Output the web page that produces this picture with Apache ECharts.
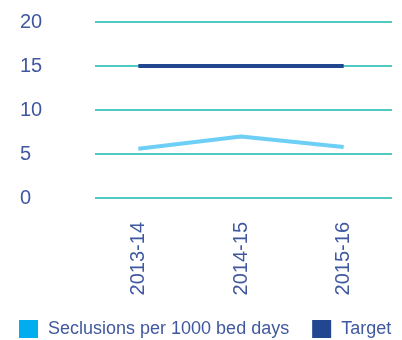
<!DOCTYPE html>
<html>
<head>
<meta charset="utf-8">
<script src="https://cdn.jsdelivr.net/npm/echarts@6/dist/echarts.min.js"></script>
<style>
  html, body { margin: 0; padding: 0; background: #fff; }
  #chart { width: 402px; height: 340px; }
</style>
</head>
<body>
<div id="chart"></div>
<script>
var years = ['2013-14', '2014-15', '2015-16'];
var seclusions = [5.6, 7.0, 5.8];
var target = [15, 15, 15];
var yTicks = [0, 5, 10, 15, 20];

var textBlue = '#40589f';
var font = 'Liberation Sans';

var myChart = echarts.init(document.getElementById('chart'), null, { renderer: 'canvas' });

var option = {
    animation: false,
    legend: {
        left: 19,
        top: 320,
        padding: 0,
        icon: 'rect',
        itemWidth: 19,
        itemHeight: 18,
        itemGap: 23,
        selectedMode: false,
        textStyle: { color: textBlue, fontSize: 18, fontFamily: font, padding: [0, 0, 0, 5] },
        data: ['Seclusions per 1000 bed days', 'Target']
    },
    grid: [
        // series grid
        { left: 87, right: 7, top: 22, height: 176 },
        // grid for the y labels and split lines
        { left: 95, right: 10, top: 22, height: 176 }
    ],
    xAxis: [{
        type: 'category',
        gridIndex: 0,
        data: years,
        boundaryGap: true,
        axisLine: { show: false },
        axisTick: { show: false },
        axisLabel: {
            rotate: 90,
            margin: 24,
            color: textBlue,
            fontSize: 20,
            fontFamily: font
        }
    }, {
        type: 'category',
        gridIndex: 1,
        data: years,
        show: false
    }],
    yAxis: [{
        type: 'value',
        gridIndex: 0,
        min: 0,
        max: 20,
        interval: 5,
        show: false
    }, {
        type: 'value',
        gridIndex: 1,
        min: yTicks[0],
        max: yTicks[yTicks.length - 1],
        interval: 5,
        axisLine: { show: false },
        axisTick: { show: false },
        axisLabel: {
            align: 'left',
            margin: 75,
            color: textBlue,
            fontSize: 20,
            fontFamily: font
        },
        splitLine: { lineStyle: { color: '#16b9b0', width: 1.5 } }
    }],
    series: [{
        name: 'Seclusions per 1000 bed days',
        type: 'line',
        xAxisIndex: 0,
        yAxisIndex: 0,
        data: seclusions,
        showSymbol: false,
        itemStyle: { color: '#00aeef' },
        lineStyle: { color: '#6dcff6', width: 4 }
    }, {
        name: 'Target',
        type: 'line',
        xAxisIndex: 0,
        yAxisIndex: 0,
        data: target,
        showSymbol: false,
        itemStyle: { color: '#22468f' },
        lineStyle: { color: '#22468f', width: 4 }
    }]
};

myChart.setOption(option);
</script>
</body>
</html>
